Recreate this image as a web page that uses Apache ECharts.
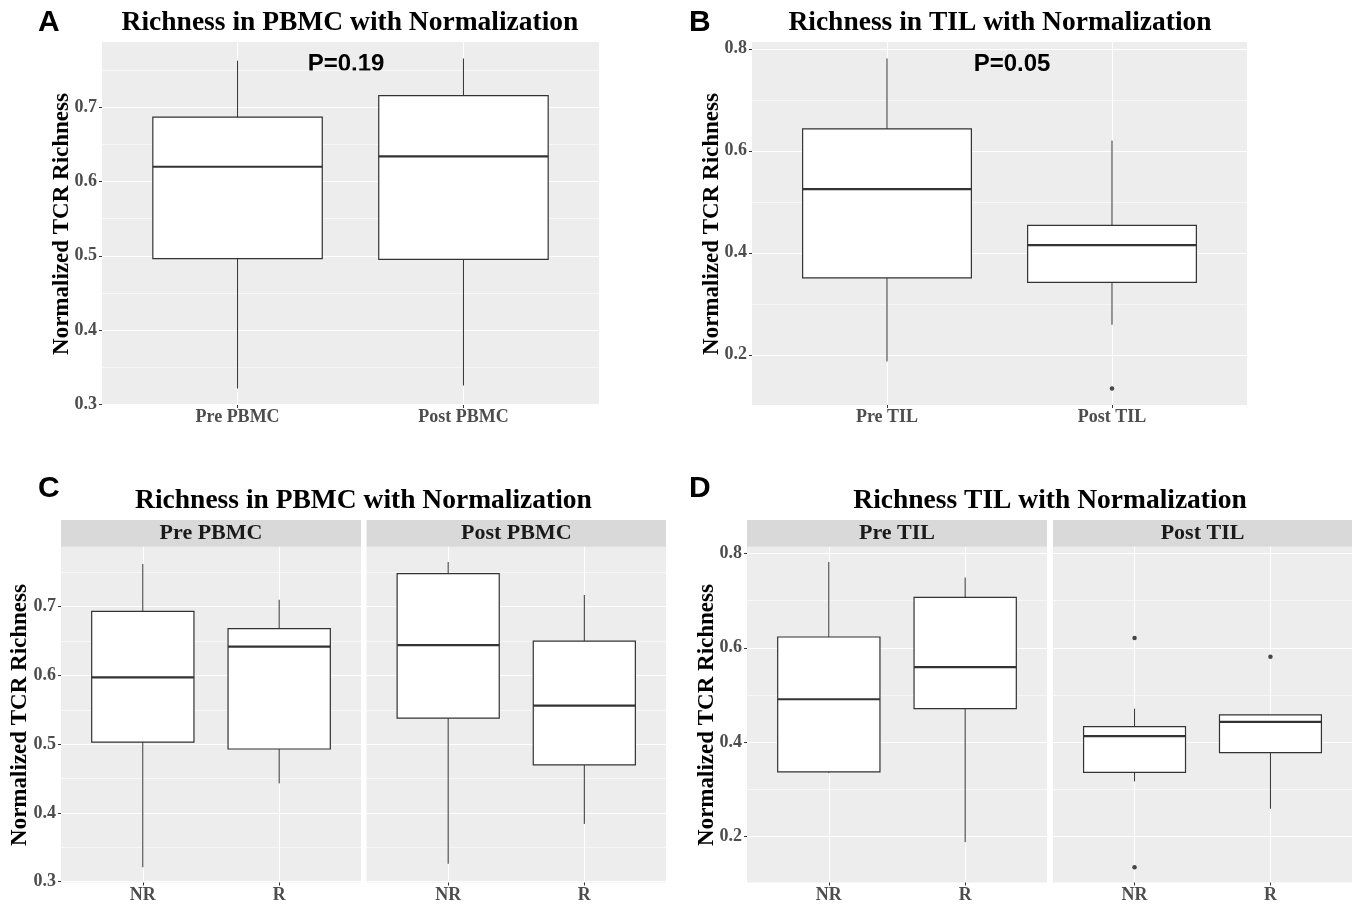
<!DOCTYPE html>
<html>
<head>
<meta charset="utf-8">
<script src="https://cdn.jsdelivr.net/npm/echarts@6/dist/echarts.min.js"></script>
<style>
html,body{margin:0;padding:0;background:#fff;}
#chart{width:1358px;height:904px;}
</style>
</head>
<body>
<div id="chart"></div>
<script>
// ---------- DATA ----------
// each box: [lower whisker, Q1, median, Q3, upper whisker]
const panelA_categories = ['Pre PBMC', 'Post PBMC'];
const panelA_boxes = [
  [0.321, 0.496, 0.620, 0.687, 0.763],
  [0.325, 0.495, 0.634, 0.716, 0.766]
];
const panelA_pvalue = 'P=0.19';

const panelB_categories = ['Pre TIL', 'Post TIL'];
const panelB_boxes = [
  [0.187, 0.351, 0.525, 0.643, 0.781],
  [0.259, 0.342, 0.415, 0.454, 0.620]
];
const panelB_outliers = [[], [0.134]];
const panelB_pvalue = 'P=0.05';

const groupCategories = ['NR', 'R'];

const panelC_facets = ['Pre PBMC', 'Post PBMC'];
const panelC_pre = [
  [0.321, 0.503, 0.597, 0.693, 0.762],
  [0.443, 0.493, 0.642, 0.668, 0.710]
];
const panelC_post = [
  [0.326, 0.538, 0.644, 0.748, 0.765],
  [0.384, 0.470, 0.556, 0.650, 0.717]
];

const panelD_facets = ['Pre TIL', 'Post TIL'];
const panelD_pre = [
  [0.335, 0.337, 0.491, 0.623, 0.782],
  [0.188, 0.471, 0.559, 0.707, 0.749]
];
const panelD_post = [
  [0.317, 0.336, 0.413, 0.433, 0.471],
  [0.259, 0.378, 0.443, 0.458, 0.458]
];
const panelD_post_outliers = [[0.621, 0.135], [0.581]];

const yTicksAC = [0.3, 0.4, 0.5, 0.6, 0.7];
const yMinorAC = [0.35, 0.45, 0.55, 0.65, 0.75];
const yTicksBD = [0.2, 0.4, 0.6, 0.8];
const yMinorBD = [0.1, 0.3, 0.5, 0.7];

// ---------- HELPERS ----------
const SERIF = "'Liberation Serif', 'Times New Roman', serif";
const SANS = "'Liberation Sans', Arial, sans-serif";
const PANEL_BG = '#ededed';

function yRange(boxLists, outlierLists) {
  let lo = Infinity, hi = -Infinity;
  boxLists.forEach(list => list.forEach(b => { lo = Math.min(lo, b[0]); hi = Math.max(hi, b[4]); }));
  (outlierLists || []).forEach(list => list.forEach(o => o.forEach(v => { lo = Math.min(lo, v); hi = Math.max(hi, v); })));
  const pad = (hi - lo) * 0.05;
  return [lo - pad, hi + pad];
}

const rangeA = yRange([panelA_boxes]);
const rangeB = yRange([panelB_boxes], [panelB_outliers]);
const rangeC = yRange([panelC_pre, panelC_post]);
const rangeD = yRange([panelD_pre, panelD_post], [panelD_post_outliers]);

const grids = [
  { left: 102, top: 42, width: 497, height: 363 },    // A
  { left: 752, top: 42, width: 495, height: 363 },    // B
  { left: 61, top: 546.7, width: 300, height: 336.6 }, // C pre
  { left: 366.5, top: 546.7, width: 299.5, height: 336.6 }, // C post
  { left: 747, top: 546.7, width: 300, height: 336.6 }, // D pre
  { left: 1053, top: 546.7, width: 299, height: 336.6 }  // D post
].map(g => Object.assign({ show: true, backgroundColor: PANEL_BG, borderWidth: 0, containLabel: false }, g));

const tickLabelStyle = { color: '#4d4d4d', fontFamily: SERIF, fontWeight: 'bold', fontSize: 18 };

function makeX(gi, cats) {
  return {
    type: 'value', gridIndex: gi, min: 0.4, max: 2.6,
    axisLine: { show: false },
    axisTick: { show: true, customValues: [1, 2], length: 3, lineStyle: { color: '#333', width: 1 } },
    axisLabel: Object.assign({ customValues: [1, 2], margin: 3.5, formatter: v => cats[Math.round(v) - 1] }, tickLabelStyle),
    splitLine: { show: true, lineStyle: { color: '#ffffff', width: 1.1 } }
  };
}
function makeYMajor(gi, range, ticks, showLabels) {
  return {
    type: 'value', gridIndex: gi, min: range[0], max: range[1],
    axisLine: { show: false },
    axisTick: { show: showLabels, customValues: ticks, length: 3, lineStyle: { color: '#333', width: 1 } },
    axisLabel: Object.assign({ show: showLabels, customValues: ticks, margin: 5, formatter: v => v.toFixed(1) }, tickLabelStyle),
    splitLine: { show: true, lineStyle: { color: '#ffffff', width: 1.1 } }
  };
}
function makeYMinor(gi, range, ticks) {
  return {
    type: 'value', gridIndex: gi, min: range[0], max: range[1],
    axisLine: { show: false },
    axisTick: { show: false, customValues: ticks },
    axisLabel: { show: false, customValues: ticks },
    splitLine: { show: true, lineStyle: { color: '#ffffff', width: 0.55 } }
  };
}

const xAxes = [
  makeX(0, panelA_categories), makeX(1, panelB_categories),
  makeX(2, groupCategories), makeX(3, groupCategories),
  makeX(4, groupCategories), makeX(5, groupCategories)
];
const yAxes = [
  makeYMajor(0, rangeA, yTicksAC, true), makeYMinor(0, rangeA, yMinorAC),
  makeYMajor(1, rangeB, yTicksBD, true), makeYMinor(1, rangeB, yMinorBD),
  makeYMajor(2, rangeC, yTicksAC, true), makeYMinor(2, rangeC, yMinorAC),
  makeYMajor(3, rangeC, yTicksAC, false), makeYMinor(3, rangeC, yMinorAC),
  makeYMajor(4, rangeD, yTicksBD, true), makeYMinor(4, rangeD, yMinorBD),
  makeYMajor(5, rangeD, yTicksBD, false), makeYMinor(5, rangeD, yMinorBD)
];

const BOX_HALF = 0.375;
function renderBox(params, api) {
  const x = api.value(0);
  const lo = api.value(1), q1 = api.value(2), md = api.value(3), q3 = api.value(4), hi = api.value(5);
  const tl = api.coord([x - BOX_HALF, q3]);
  const br = api.coord([x + BOX_HALF, q1]);
  const pHi = api.coord([x, hi]), pQ3 = api.coord([x, q3]);
  const pQ1 = api.coord([x, q1]), pLo = api.coord([x, lo]);
  const mL = api.coord([x - BOX_HALF, md]), mR = api.coord([x + BOX_HALF, md]);
  const stroke = '#333333';
  return {
    type: 'group',
    children: [
      { type: 'line', shape: { x1: pHi[0], y1: pHi[1], x2: pQ3[0], y2: pQ3[1] }, style: { stroke, lineWidth: 1 } },
      { type: 'line', shape: { x1: pQ1[0], y1: pQ1[1], x2: pLo[0], y2: pLo[1] }, style: { stroke, lineWidth: 1 } },
      { type: 'rect', shape: { x: tl[0], y: tl[1], width: br[0] - tl[0], height: br[1] - tl[1] }, style: { fill: '#ffffff', stroke, lineWidth: 1.2 } },
      { type: 'line', shape: { x1: mL[0], y1: mL[1], x2: mR[0], y2: mR[1] }, style: { stroke, lineWidth: 2.2 } }
    ]
  };
}
function boxSeries(gi, boxes) {
  return {
    type: 'custom', xAxisIndex: gi, yAxisIndex: gi * 2,
    renderItem: renderBox, clip: false, silent: true,
    encode: { x: 0, y: [1, 2, 3, 4, 5] },
    data: boxes.map((b, i) => [i + 1].concat(b))
  };
}
function outlierSeries(gi, outliers) {
  const pts = [];
  outliers.forEach((list, i) => list.forEach(v => pts.push([i + 1, v])));
  return {
    type: 'scatter', xAxisIndex: gi, yAxisIndex: gi * 2, silent: true,
    symbol: 'circle', symbolSize: 4.5, itemStyle: { color: '#1a1a1a' }, data: pts
  };
}

const series = [
  boxSeries(0, panelA_boxes),
  boxSeries(1, panelB_boxes), outlierSeries(1, panelB_outliers),
  boxSeries(2, panelC_pre), boxSeries(3, panelC_post),
  boxSeries(4, panelD_pre), boxSeries(5, panelD_post), outlierSeries(5, panelD_post_outliers)
];

function txt(x, y, text, font, opts) {
  return Object.assign({
    type: 'text', x, y, silent: true,
    style: Object.assign({ text, font, fill: '#000', align: 'center', verticalAlign: 'middle' }, (opts && opts.style) || {})
  }, (opts && opts.el) || {});
}
function strip(g, label) {
  return [
    { type: 'rect', silent: true, shape: { x: g.left, y: 520, width: g.width, height: 26.7 }, style: { fill: '#d9d9d9' } },
    txt(g.left + g.width / 2, 533.5, label, "bold 22px " + SERIF, { style: { fill: '#1a1a1a' } })
  ];
}

const titleFont = "bold 27.5px " + SERIF;
const letterFont = "bold 30px " + SANS;
const axisTitleFont = "bold 23px " + SERIF;
const pFont = "bold 24px " + SANS;

const graphics = [
  txt(350, 23, 'Richness in PBMC with Normalization', titleFont),
  txt(1000, 23, 'Richness in TIL with Normalization', titleFont),
  txt(363.5, 500.5, 'Richness in PBMC with Normalization', titleFont),
  txt(1050, 500.5, 'Richness TIL with Normalization', titleFont),
  txt(38, 23, 'A', letterFont, { style: { align: 'left' } }),
  txt(689, 23, 'B', letterFont, { style: { align: 'left' } }),
  txt(38, 489, 'C', letterFont, { style: { align: 'left' } }),
  txt(689, 489, 'D', letterFont, { style: { align: 'left' } }),
  txt(346, 64, panelA_pvalue, pFont),
  txt(1012, 64, panelB_pvalue, pFont),
  txt(62, 224, 'Normalized TCR Richness', axisTitleFont, { el: { rotation: Math.PI / 2 } }),
  txt(712, 224, 'Normalized TCR Richness', axisTitleFont, { el: { rotation: Math.PI / 2 } }),
  txt(20, 715, 'Normalized TCR Richness', axisTitleFont, { el: { rotation: Math.PI / 2 } }),
  txt(707, 715, 'Normalized TCR Richness', axisTitleFont, { el: { rotation: Math.PI / 2 } })
].concat(strip(grids[2], panelC_facets[0]), strip(grids[3], panelC_facets[1]),
         strip(grids[4], panelD_facets[0]), strip(grids[5], panelD_facets[1]));

const chart = echarts.init(document.getElementById('chart'), null, { renderer: 'canvas' });
chart.setOption({
  animation: false,
  backgroundColor: '#ffffff',
  grid: grids,
  xAxis: xAxes,
  yAxis: yAxes,
  series,
  graphic: { elements: graphics }
});
</script>
</body>
</html>
